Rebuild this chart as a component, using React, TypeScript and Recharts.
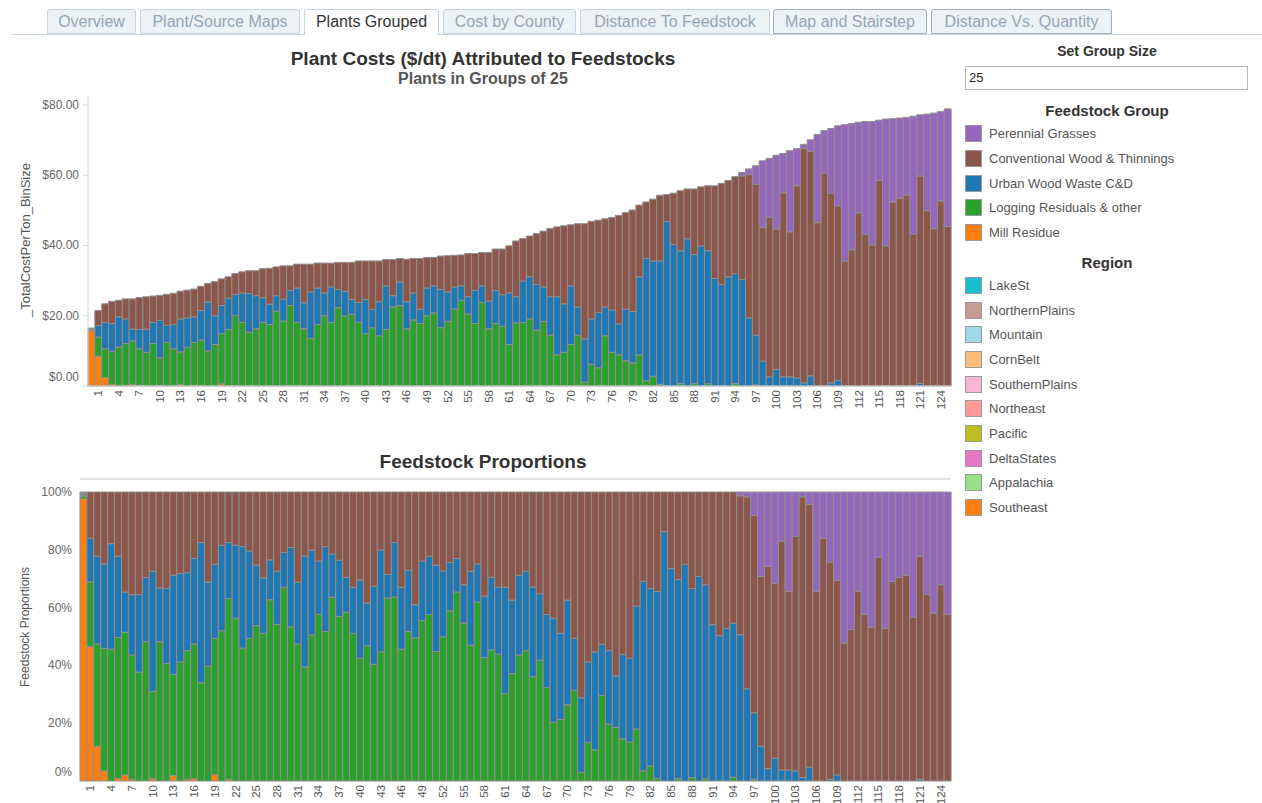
import React from 'react';
import { BarChart, Bar, XAxis, YAxis } from 'recharts';

const FONT = '"Liberation Sans", Arial, Helvetica, sans-serif';

// ---------- categories & tick labels ----------
const bins = [
  0, 1, 2, 3, 4, 5, 6, 7, 8, 9,
  10, 11, 12, 13, 14, 15, 16, 17, 18, 19,
  20, 21, 22, 23, 24, 25, 26, 27, 28, 29,
  30, 31, 32, 33, 34, 35, 36, 37, 38, 39,
  40, 41, 42, 43, 44, 45, 46, 47, 48, 49,
  50, 51, 52, 53, 54, 55, 56, 57, 58, 59,
  60, 61, 62, 63, 64, 65, 66, 67, 68, 69,
  70, 71, 72, 73, 74, 75, 76, 77, 78, 79,
  80, 81, 82, 83, 84, 85, 86, 87, 88, 89,
  90, 91, 92, 93, 94, 95, 96, 97, 98, 99,
  100, 101, 102, 103, 104, 105, 106, 107, 108, 109,
  110, 111, 112, 113, 114, 115, 116, 117, 118, 119,
  120, 121, 122, 123, 124, 125,
];

const xTickLabels = [
  1, 4, 7, 10, 13, 16, 19, 22, 25, 28, 31, 34, 37, 40, 43, 46, 49, 52, 55, 58, 61,
  64, 67, 70, 73, 76, 79, 82, 85, 88, 91, 94, 97, 100, 103, 106, 109, 112, 115, 118, 121, 124,
];

const costTicks = [0, 20, 40, 60, 80];
const shareTicks = [0, 20, 40, 60, 80, 100];

// ---------- top chart: $/dt per feedstock ----------
const millCost = [
  15.7, 8.5, 2.4, 0.5, 0, 0.2, 0.5, 0.2, 0, 0,
  0.2, 0, 0, 0.5, 0, 0.2, 0.2, 0, 0, 0.6,
  0, 0.2, 0, 0, 0, 0, 0, 0, 0, 0,
  0, 0, 0, 0, 0, 0, 0, 0, 0, 0,
  0, 0, 0, 0, 0, 0, 0, 0, 0, 0,
  0, 0, 0, 0, 0, 0, 0, 0, 0, 0,
  0, 0, 0, 0, 0, 0, 0, 0, 0, 0,
  0, 0, 0, 0, 0, 0, 0, 0, 0, 0,
  0, 0, 0, 0, 0, 0, 0, 0, 0, 0,
  0, 0, 0, 0, 0, 0, 0, 0, 0, 0,
  0, 0, 0, 0, 0, 0, 0, 0, 0, 0,
  0, 0, 0, 0, 0, 0, 0, 0, 0, 0,
  0, 0, 0, 0, 0, 0,
];

const loggingCost = [
  0, 5.4, 8.2, 9.4, 11.1, 11.9, 12.3, 10.4, 9.6, 12.1,
  7.8, 12.4, 10.6, 9.2, 11.0, 12.2, 12.9, 10.0, 11.8, 14.3,
  16.1, 19.9, 18.1, 15.3, 16.3, 18.1, 17.5, 21.3, 18.5, 22.9,
  18.1, 16.3, 13.5, 17.5, 20.0, 18.1, 22.3, 19.9, 20.4, 18.1,
  14.9, 16.6, 14.3, 16.1, 22.5, 22.9, 16.3, 18.8, 17.8, 20.0,
  20.8, 16.6, 18.4, 21.9, 24.4, 20.5, 17.8, 23.8, 16.3, 17.8,
  17.0, 11.8, 18.0, 18.1, 19.1, 15.9, 18.4, 14.5, 8.9, 9.6,
  11.8, 14.5, 1.1, 6.2, 5.2, 14.3, 9.6, 8.9, 7.2, 6.6,
  8.9, 1.5, 2.8, 0.5, 0, 0, 0.7, 0, 0.7, 0,
  0.7, 0, 0, 0, 0.7, 0, 0, 0.3, 0, 0,
  0, 0, 0, 0, 0, 0, 0, 0, 0, 0,
  0, 0, 0, 0, 0, 0, 0, 0, 0, 0,
  0, 0, 0, 0, 0, 0,
];

const urbanCost = [
  0, 3.3, 7.5, 7.9, 8.6, 7.0, 3.4, 5.5, 6.6, 6.0,
  10.7, 4.9, 6.9, 9.4, 8.4, 7.3, 8.4, 13.9, 8.2, 8.0,
  8.9, 6.0, 8.4, 11.0, 9.4, 7.0, 5.8, 4.4, 6.2, 4.3,
  9.8, 7.4, 13.3, 10.4, 6.5, 10.1, 5.2, 7.0, 4.3, 5.7,
  9.7, 5.2, 9.7, 12.4, 3.2, 6.7, 7.7, 7.7, 4.1, 7.9,
  7.7, 10.9, 8.4, 6.3, 4.1, 4.9, 9.4, 4.7, 7.9, 9.4,
  9.0, 14.7, 7.4, 11.8, 12.0, 13.0, 9.8, 10.9, 16.5, 13.8,
  16.7, 8.0, 12.3, 12.9, 15.7, 8.2, 12.0, 8.8, 14.7, 14.6,
  22.2, 34.8, 32.8, 35.1, 46.8, 40.3, 37.8, 41.9, 36.7, 39.9,
  37.8, 30.6, 28.9, 31.1, 31.3, 30.3, 19.4, 14.2, 7.1, 2.6,
  4.7, 2.6, 2.6, 2.3, 0.9, 2.9, 0, 0, 0.9, 1.6,
  0, 0, 0, 0, 0, 0, 0, 0, 0, 0,
  0, 0.7, 0, 0, 0, 0,
];

const convCost = [
  0, 4.3, 5.3, 6.3, 4.7, 5.7, 8.6, 9.1, 9.2, 7.5,
  7.1, 8.8, 8.9, 7.9, 7.9, 7.9, 6.9, 5.3, 9.7, 7.6,
  6.1, 5.9, 6.0, 6.5, 7.1, 8.3, 10.2, 8.2, 9.5, 7.0,
  6.8, 11.0, 7.9, 7.1, 8.5, 6.8, 7.7, 8.3, 10.5, 11.8,
  11.0, 13.8, 11.6, 7.5, 10.3, 6.7, 12.1, 9.8, 14.4, 8.7,
  8.1, 9.5, 10.3, 9.0, 8.8, 12.3, 10.5, 9.5, 13.8, 11.8,
  13.0, 13.4, 15.9, 12.1, 11.6, 14.5, 15.9, 19.4, 19.9, 22.2,
  17.4, 23.7, 32.8, 27.8, 26.3, 25.1, 26.4, 30.9, 27.5, 28.9,
  20.4, 16.1, 17.6, 18.7, 7.7, 14.6, 17.1, 14.2, 18.7, 16.8,
  18.5, 26.4, 28.8, 27.4, 27.6, 29.5, 40.8, 42.9, 38.0, 45.4,
  40.0, 52.4, 41.3, 54.7, 66.7, 63.9, 46.5, 60.5, 53.9, 49.7,
  35.6, 38.8, 49.3, 43.2, 40.2, 58.5, 39.9, 52.4, 53.4, 54.4,
  43.3, 59.1, 49.9, 44.8, 52.7, 45.4,
];

const perennialCost = [
  0, 0, 0, 0, 0, 0, 0, 0, 0, 0,
  0, 0, 0, 0, 0, 0, 0, 0, 0, 0,
  0, 0, 0, 0, 0, 0, 0, 0, 0, 0,
  0, 0, 0, 0, 0, 0, 0, 0, 0, 0,
  0, 0, 0, 0, 0, 0, 0, 0, 0, 0,
  0, 0, 0, 0, 0, 0, 0, 0, 0, 0,
  0, 0, 0, 0, 0, 0, 0, 0, 0, 0,
  0, 0, 0, 0, 0, 0, 0, 0, 0, 0,
  0, 0, 0, 0, 0, 0, 0, 0, 0, 0,
  0, 0, 0, 0, 0, 1.0, 1.6, 5.3, 19.0, 16.8,
  21.0, 11.2, 23.1, 10.6, 1.2, 3.3, 25.1, 12.2, 18.5, 22.8,
  38.8, 35.9, 25.8, 32.1, 35.1, 17.2, 36.1, 23.7, 22.9, 22.1,
  33.5, 17.4, 27.5, 32.9, 25.4, 33.5,
];

const otherCost = [
  0.8, 0, 0, 0, 0, 0, 0, 0, 0, 0,
  0, 0, 0, 0, 0, 0, 0, 0, 0, 0,
  0, 0, 0, 0, 0, 0, 0, 0, 0, 0,
  0, 0, 0, 0, 0, 0, 0, 0, 0, 0,
  0, 0, 0, 0, 0, 0, 0, 0, 0, 0,
  0, 0, 0, 0, 0, 0, 0, 0, 0, 0,
  0, 0, 0, 0, 0, 0, 0, 0, 0, 0,
  0, 0, 0, 0, 0, 0, 0, 0, 0, 0,
  0, 0, 0, 0, 0, 0, 0, 0, 0, 0,
  0, 0, 0, 0, 0, 0, 0, 0, 0, 0,
  0, 0, 0, 0, 0, 0, 0, 0, 0, 0,
  0, 0, 0, 0, 0, 0, 0, 0, 0, 0,
  0, 0, 0, 0, 0, 0,
];

// ---------- bottom chart: feedstock proportions (%) ----------
const millShare = [
  97.7, 46.5, 12.0, 3.5, 0, 0.9, 2.1, 0.6, 0, 0,
  0.8, 0, 0, 1.9, 0, 0.6, 0.8, 0, 0, 2.2,
  0, 0.6, 0, 0, 0, 0, 0, 0, 0, 0,
  0, 0, 0, 0, 0, 0, 0, 0, 0, 0,
  0, 0, 0, 0, 0, 0, 0, 0, 0, 0,
  0, 0, 0, 0, 0, 0, 0, 0, 0, 0,
  0, 0, 0, 0, 0, 0, 0, 0, 0, 0,
  0, 0, 0, 0, 0, 0, 0, 0, 0, 0,
  0, 0, 0, 0, 0, 0, 0, 0, 0, 0,
  0, 0, 0, 0, 0, 0, 0, 0, 0, 0,
  0, 0, 0, 0, 0, 0, 0, 0, 0, 0,
  0, 0, 0, 0, 0, 0, 0, 0, 0, 0,
  0, 0, 0, 0, 0, 0,
];

const loggingShare = [
  0.8, 22.4, 35.4, 42.4, 45.6, 48.8, 49.4, 43.0, 37.7, 48.2,
  30.2, 48.2, 40.7, 35.0, 41.2, 44.5, 46.6, 34.0, 39.8, 47.2,
  52.0, 62.5, 56.3, 46.0, 49.4, 53.8, 51.1, 62.7, 54.2, 67.0,
  53.3, 47.4, 39.5, 50.5, 57.7, 51.7, 63.6, 56.9, 58.4, 51.1,
  42.5, 46.8, 40.4, 44.7, 63.3, 63.6, 45.6, 51.7, 49.5, 55.5,
  57.6, 44.8, 49.9, 58.9, 65.4, 54.7, 47.0, 61.9, 42.7, 45.4,
  43.9, 30.2, 37.2, 43.6, 45.1, 36.1, 41.8, 32.3, 20.3, 21.3,
  26.4, 31.4, 3.0, 13.4, 10.8, 29.6, 19.7, 18.6, 14.6, 13.5,
  18.0, 3.5, 5.2, 0.9, 0, 0, 0.8, 0, 1.2, 0,
  0.8, 0, 0, 0, 1.3, 0, 0, 0.6, 0, 0,
  0, 0, 0, 0, 0, 0, 0, 0, 0, 0,
  0, 0, 0, 0, 0, 0, 0, 0, 0, 0,
  0, 0, 0, 0, 0, 0,
];

const urbanShare = [
  0, 15.1, 30.4, 29.2, 36.5, 28.1, 13.9, 20.9, 26.8, 22.2,
  41.6, 18.6, 25.9, 34.3, 30.6, 27.0, 29.6, 48.5, 29.0, 25.6,
  29.6, 19.4, 25.3, 35.1, 30.2, 20.9, 19.2, 13.8, 18.4, 12.1,
  27.5, 21.4, 38.3, 29.4, 18.4, 29.4, 14.9, 19.5, 12.1, 15.9,
  27.0, 14.8, 27.0, 35.2, 8.2, 18.9, 21.4, 21.2, 11.5, 20.6,
  20.2, 29.9, 22.8, 16.7, 11.6, 13.2, 25.6, 13.2, 21.3, 25.1,
  23.2, 36.9, 25.4, 27.6, 27.5, 31.0, 23.0, 25.3, 36.0, 29.8,
  36.2, 18.0, 25.8, 27.8, 33.9, 17.7, 25.4, 17.8, 29.2, 29.0,
  42.5, 65.6, 61.4, 64.7, 86.3, 73.5, 68.9, 75.0, 65.4, 70.8,
  67.1, 54.1, 50.3, 52.8, 53.3, 50.6, 31.9, 23.0, 12.0, 4.3,
  7.9, 3.8, 3.8, 3.5, 1.2, 4.8, 0, 0, 0.6, 2.1,
  0, 0, 0, 0, 0, 0, 0, 0, 0, 0,
  0, 0.6, 0, 0, 0, 0,
];

const convShare = [
  0, 16.0, 22.2, 24.9, 17.9, 22.2, 34.6, 35.5, 35.5, 29.6,
  27.4, 33.2, 33.4, 28.8, 28.2, 27.9, 23.0, 17.5, 31.2, 25.0,
  18.4, 17.5, 18.4, 18.9, 20.4, 25.3, 29.7, 23.5, 27.4, 20.9,
  19.2, 31.2, 22.2, 20.1, 23.9, 18.9, 21.5, 23.6, 29.5, 33.0,
  30.5, 38.4, 32.6, 20.1, 28.5, 17.5, 33.0, 27.1, 39.0, 23.9,
  22.2, 25.3, 27.3, 24.4, 23.0, 32.1, 27.4, 24.9, 36.0, 29.5,
  32.9, 32.9, 37.4, 28.8, 27.4, 32.9, 35.2, 42.4, 43.7, 48.9,
  37.4, 50.6, 71.2, 58.8, 55.3, 52.7, 54.9, 63.6, 56.2, 57.5,
  39.5, 30.9, 33.4, 34.4, 13.7, 26.5, 30.3, 25.0, 33.4, 29.2,
  32.1, 45.9, 49.7, 47.2, 45.4, 48.1, 66.4, 68.3, 58.8, 70.0,
  60.4, 79.2, 61.8, 81.1, 97.1, 91.0, 65.6, 84.0, 75.0, 67.4,
  47.7, 52.4, 65.6, 57.6, 53.2, 77.4, 52.8, 69.1, 70.4, 71.2,
  56.7, 77.2, 64.5, 58.1, 67.9, 57.6,
];

const perennialShare = [
  0, 0, 0, 0, 0, 0, 0, 0, 0, 0,
  0, 0, 0, 0, 0, 0, 0, 0, 0, 0,
  0, 0, 0, 0, 0, 0, 0, 0, 0, 0,
  0, 0, 0, 0, 0, 0, 0, 0, 0, 0,
  0, 0, 0, 0, 0, 0, 0, 0, 0, 0,
  0, 0, 0, 0, 0, 0, 0, 0, 0, 0,
  0, 0, 0, 0, 0, 0, 0, 0, 0, 0,
  0, 0, 0, 0, 0, 0, 0, 0, 0, 0,
  0, 0, 0, 0, 0, 0, 0, 0, 0, 0,
  0, 0, 0, 0, 0, 1.3, 1.7, 8.1, 29.2, 25.7,
  31.7, 17.0, 34.4, 15.4, 1.7, 4.2, 34.4, 16.0, 24.4, 30.5,
  52.3, 47.6, 34.4, 42.4, 46.8, 22.6, 47.2, 30.9, 29.6, 28.8,
  43.3, 22.2, 35.5, 41.9, 32.1, 42.4,
];

const otherShare = [
  1.5, 0, 0, 0, 0, 0, 0, 0, 0, 0,
  0, 0, 0, 0, 0, 0, 0, 0, 0, 0,
  0, 0, 0, 0, 0, 0, 0, 0, 0, 0,
  0, 0, 0, 0, 0, 0, 0, 0, 0, 0,
  0, 0, 0, 0, 0, 0, 0, 0, 0, 0,
  0, 0, 0, 0, 0, 0, 0, 0, 0, 0,
  0, 0, 0, 0, 0, 0, 0, 0, 0, 0,
  0, 0, 0, 0, 0, 0, 0, 0, 0, 0,
  0, 0, 0, 0, 0, 0, 0, 0, 0, 0,
  0, 0, 0, 0, 0, 0, 0, 0, 0, 0,
  0, 0, 0, 0, 0, 0, 0, 0, 0, 0,
  0, 0, 0, 0, 0, 0, 0, 0, 0, 0,
  0, 0, 0, 0, 0, 0,
];

// ---------- legend / UI text ----------
const tabNames = [
  'Overview', 'Plant/Source Maps', 'Plants Grouped', 'Cost by County',
  'Distance To Feedstock', 'Map and Stairstep', 'Distance Vs. Quantity',
];
const activeTab = 'Plants Grouped';
const feedstockGroups = [
  'Perennial Grasses', 'Conventional Wood & Thinnings', 'Urban Wood Waste C&D',
  'Logging Residuals & other', 'Mill Residue',
];
const feedstockColors = ['#9467bd', '#8c564b', '#1f77b4', '#2ca02c', '#ff7f0e'];
const regions = [
  'LakeSt', 'NorthernPlains', 'Mountain', 'CornBelt', 'SouthernPlains',
  'Northeast', 'Pacific', 'DeltaStates', 'Appalachia', 'Southeast',
];
const regionColors = [
  '#17becf', '#c49c94', '#9edae5', '#ffbb78', '#f7b6d2',
  '#ff9896', '#bcbd22', '#e377c2', '#98df8a', '#ff7f0e',
];

// layout (not data)
const tabBoxes = [
  [47, 89], [140, 160], [304, 135], [443, 133], [580, 190], [773, 154], [931, 181],
];

const series = [
  { key: 'mill', color: '#ff7f0e' },
  { key: 'logging', color: '#2ca02c' },
  { key: 'urban', color: '#1f77b4' },
  { key: 'conv', color: '#8c564b' },
  { key: 'perennial', color: '#9467bd' },
  { key: 'other', color: '#8c8c8c' },
];

const costRows = bins.map((bin, i) => ({
  bin,
  mill: millCost[i],
  logging: loggingCost[i],
  urban: urbanCost[i],
  conv: convCost[i],
  perennial: perennialCost[i],
  other: otherCost[i],
}));

const shareRows = bins.map((bin, i) => ({
  bin,
  mill: millShare[i],
  logging: loggingShare[i],
  urban: urbanShare[i],
  conv: convShare[i],
  perennial: perennialShare[i],
  other: otherShare[i],
}));

const BAR_STROKE = '#8f8f8f';
const BORDER = '#d6d6d6';

const XTick = (props: any) => {
  const { x, y, payload } = props;
  if (!xTickLabels.includes(Number(payload.value))) return <g />;
  return (
    <text
      x={x}
      y={y}
      dy={4}
      transform={`rotate(-90, ${x}, ${y})`}
      textAnchor="end"
      fontSize={11.5}
      fill="#555"
      fontFamily={FONT}
    >
      {payload.value}
    </text>
  );
};

const CostTick = (props: any) => {
  const { x, y, payload } = props;
  const v = Number(payload.value);
  return (
    <text x={x} y={v === 0 ? y - 9 : y} dy={4} textAnchor="end" fontSize={12} fill="#666" fontFamily={FONT}>
      {'$' + v.toFixed(2)}
    </text>
  );
};

const ShareTick = (props: any) => {
  const { x, y, payload } = props;
  const v = Number(payload.value);
  return (
    <text x={x} y={v === 0 ? y - 9 : y} dy={4} textAnchor="end" fontSize={12} fill="#666" fontFamily={FONT}>
      {v + '%'}
    </text>
  );
};

const abs = (left: number, top: number, extra: React.CSSProperties = {}): React.CSSProperties => ({
  position: 'absolute',
  left,
  top,
  ...extra,
});

export default function App() {
  return (
    <div
      style={{
        position: 'absolute',
        left: 0,
        top: 0,
        width: 1262,
        height: 803,
        overflow: 'hidden',
        background: '#ffffff',
        fontFamily: FONT,
      }}
    >
      {/* tab strip */}
      <div style={abs(12, 34, { width: 1250, height: 0, borderTop: '1px solid #c6d3e0' })} />
      {tabNames.map((name, i) => {
        const active = name === activeTab;
        const dark = i >= 5;
        return (
          <div
            key={name}
            style={abs(tabBoxes[i][0], 9, {
              width: tabBoxes[i][1],
              height: active ? 26 : 25,
              boxSizing: 'border-box',
              border: `1px solid ${dark ? '#9fb0c2' : '#c6d3e0'}`,
              borderBottom: active ? 'none' : `1px solid ${dark ? '#9fb0c2' : '#c6d3e0'}`,
              borderRadius: '3px 3px 0 0',
              background: active ? '#ffffff' : '#edf2f7',
              color: active ? '#333333' : '#93a5b8',
              fontSize: 16,
              lineHeight: '23px',
              textAlign: 'center',
              whiteSpace: 'nowrap',
            })}
          >
            {name}
          </div>
        );
      })}

      {/* top chart titles */}
      <div style={abs(0, 47, { width: 966, textAlign: 'center', fontSize: 19, fontWeight: 700, color: '#333', lineHeight: '24px' })}>
        Plant Costs ($/dt) Attributed to Feedstocks
      </div>
      <div style={abs(0, 69, { width: 966, textAlign: 'center', fontSize: 16, fontWeight: 700, color: '#555', lineHeight: '20px' })}>
        Plants in Groups of 25
      </div>
      <div
        style={abs(25, 240, {
          transform: 'translate(-50%, -50%) rotate(-90deg)',
          fontSize: 13,
          color: '#555',
          whiteSpace: 'nowrap',
        })}
      >
        _TotalCostPerTon_BinSize
      </div>

      {/* top chart */}
      <div style={abs(0, 0)}>
        <BarChart
          width={960}
          height={420}
          data={costRows}
          margin={{ top: 96, right: 9, left: 0, bottom: 0 }}
          barCategoryGap={0}
          barGap={0}
        >
          <XAxis
            dataKey="bin"
            interval={0}
            height={34}
            tick={<XTick />}
            tickLine={false}
            tickSize={0}
            tickMargin={4}
            axisLine={{ stroke: BORDER }}
          />
          <XAxis
            xAxisId="top"
            dataKey="bin"
            orientation="top"
            height={0}
            tick={false}
            tickLine={false}
            axisLine={{ stroke: BORDER }}
          />
          <YAxis
            width={88}
            domain={[0, 82.56]}
            ticks={costTicks}
            tick={<CostTick />}
            tickSize={5}
            tickMargin={4}
            tickLine={{ stroke: BORDER }}
            axisLine={{ stroke: BORDER }}
          />
          <YAxis
            yAxisId="right"
            orientation="right"
            width={0}
            domain={[0, 1]}
            tick={false}
            tickLine={false}
            axisLine={{ stroke: BORDER }}
          />
          {series.map((s) => (
            <Bar
              key={s.key}
              dataKey={s.key}
              stackId="cost"
              fill={s.color}
              stroke={BAR_STROKE}
              strokeWidth={1}
              isAnimationActive={false}
            />
          ))}
        </BarChart>
      </div>

      {/* bottom chart title */}
      <div style={abs(0, 450, { width: 966, textAlign: 'center', fontSize: 19, fontWeight: 700, color: '#333', lineHeight: '24px' })}>
        Feedstock Proportions
      </div>
      <div style={abs(80, 478, { width: 871, height: 0, borderTop: '2px solid #e2e2e2' })} />
      <div
        style={abs(25, 627, {
          transform: 'translate(-50%, -50%) rotate(-90deg)',
          fontSize: 12,
          color: '#555',
          whiteSpace: 'nowrap',
        })}
      >
        Feedstock Proportions
      </div>

      {/* bottom chart */}
      <div style={abs(0, 440)}>
        <BarChart
          width={960}
          height={363}
          data={shareRows}
          margin={{ top: 52, right: 9, left: 0, bottom: 0 }}
          barCategoryGap={0}
          barGap={0}
        >
          <XAxis
            dataKey="bin"
            interval={0}
            height={22}
            tick={<XTick />}
            tickLine={false}
            tickSize={0}
            tickMargin={4}
            axisLine={false}
          />
          <YAxis
            width={80}
            domain={[0, 100]}
            ticks={shareTicks}
            tick={<ShareTick />}
            tickSize={0}
            tickMargin={8}
            tickLine={false}
            axisLine={false}
          />
          {series.map((s) => (
            <Bar
              key={s.key}
              dataKey={s.key}
              stackId="share"
              fill={s.color}
              stroke={BAR_STROKE}
              strokeWidth={1}
              isAnimationActive={false}
            />
          ))}
        </BarChart>
      </div>

      {/* right panel */}
      <div style={abs(965, 42, { width: 284, textAlign: 'center', fontSize: 14, fontWeight: 700, color: '#333', lineHeight: '18px' })}>
        Set Group Size
      </div>
      <div
        style={abs(965, 66, {
          width: 283,
          height: 24,
          boxSizing: 'border-box',
          border: '1px solid #b5b5b5',
          fontSize: 13,
          lineHeight: '22px',
          paddingLeft: 3,
          color: '#222',
        })}
      >
        25
      </div>

      <div style={abs(965, 101, { width: 284, textAlign: 'center', fontSize: 15, fontWeight: 700, color: '#333', lineHeight: '20px' })}>
        Feedstock Group
      </div>
      {feedstockGroups.map((name, i) => (
        <div key={name} style={abs(965, 125 + i * 24.75, { height: 18, width: 290 })}>
          <div
            style={abs(0, 0, {
              width: 17,
              height: 17,
              boxSizing: 'border-box',
              border: '1px solid #9a9a9a',
              background: feedstockColors[i],
            })}
          />
          <div style={abs(24, 0, { fontSize: 13, lineHeight: '18px', color: '#555', whiteSpace: 'nowrap' })}>{name}</div>
        </div>
      ))}

      <div style={abs(965, 253, { width: 284, textAlign: 'center', fontSize: 15, fontWeight: 700, color: '#333', lineHeight: '20px' })}>
        Region
      </div>
      {regions.map((name, i) => (
        <div key={name} style={abs(965, 277 + i * 24.65, { height: 18, width: 290 })}>
          <div
            style={abs(0, 0, {
              width: 17,
              height: 17,
              boxSizing: 'border-box',
              border: '1px solid #9a9a9a',
              background: regionColors[i],
            })}
          />
          <div style={abs(24, 0, { fontSize: 13, lineHeight: '18px', color: '#555', whiteSpace: 'nowrap' })}>{name}</div>
        </div>
      ))}
    </div>
  );
}
